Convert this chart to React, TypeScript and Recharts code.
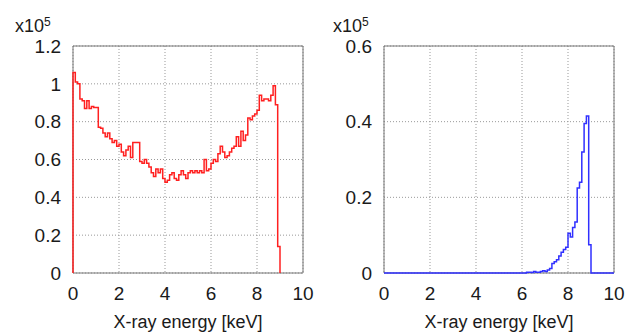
import { LineChart, Line, XAxis, YAxis, CartesianGrid, ReferenceArea, Label } from "recharts";

// bin width of the histograms, keV
const BIN = 0.1;

// left panel: counts per 0.1 keV bin from 0.0 keV (x10^5)
const LEFT_COUNTS = [
  1.06, 1.01, 1.0, 0.92, 0.91, 0.87, 0.91, 0.87, 0.88, 0.875,
  0.875, 0.77, 0.765, 0.74, 0.72, 0.74, 0.71, 0.69, 0.7, 0.67,
  0.68, 0.64, 0.62, 0.65, 0.67, 0.61, 0.69, 0.69, 0.69, 0.59,
  0.58, 0.6, 0.58, 0.56, 0.53, 0.51, 0.55, 0.53, 0.55, 0.5,
  0.48, 0.49, 0.52, 0.53, 0.5, 0.49, 0.52, 0.54, 0.52, 0.5,
  0.53, 0.54, 0.53, 0.54, 0.53, 0.54, 0.53, 0.6, 0.54, 0.55,
  0.58, 0.6, 0.59, 0.63, 0.67, 0.64, 0.61, 0.62, 0.64, 0.66,
  0.67, 0.72, 0.67, 0.75, 0.7, 0.73, 0.82, 0.81, 0.83, 0.84,
  0.86, 0.94, 0.91, 0.92, 0.92, 0.91, 0.94, 0.99, 0.89, 0.14,
  0,
];

// right panel: nonzero region only, zero elsewhere (x10^5)
const RIGHT_ENERGY = [
  0, 6.2, 6.3, 6.4, 6.5, 6.6, 6.7, 6.8, 6.9, 7.0, 7.1, 7.2, 7.3, 7.4, 7.5, 7.6,
  7.7, 7.8, 7.9, 8.0, 8.1, 8.2, 8.3, 8.4, 8.5, 8.6, 8.7, 8.8, 8.9, 9.0, 10,
];
const RIGHT_COUNTS = [
  0, 0.002, 0.002, 0.001, 0.004, 0.002, 0.002, 0.004, 0.006, 0.004, 0.008, 0.012,
  0.025, 0.03, 0.035, 0.045, 0.055, 0.062, 0.068, 0.105, 0.095, 0.12, 0.135, 0.225,
  0.24, 0.32, 0.395, 0.415, 0.075, 0, 0,
];

const X_TICKS = [0, 2, 4, 6, 8, 10];
const LEFT_Y_TICKS = [0, 0.2, 0.4, 0.6, 0.8, 1, 1.2];
const RIGHT_Y_TICKS = [0, 0.2, 0.4, 0.6];

const leftData = [
  { e: 0, v: 0 },
  ...LEFT_COUNTS.map((v, i) => ({ e: Math.round(i * BIN * 10) / 10, v })),
];
const rightData = RIGHT_ENERGY.map((e, i) => ({ e, v: RIGHT_COUNTS[i] }));

const FONT = "'Liberation Sans', Arial, sans-serif";
const tickStyle = { fontSize: 19, fill: "#1a1a1a", fontFamily: FONT };

interface PanelProps {
  data: { e: number; v: number }[];
  yMax: number;
  yTicks: number[];
  color: string;
}

function Panel({ data, yMax, yTicks, color }: PanelProps) {
  return (
    <LineChart width={320} height={334} data={data} margin={{ top: 46, right: 17, bottom: 0, left: 0 }}>
      <CartesianGrid stroke="#999" strokeDasharray="1 2" />
      <XAxis
        dataKey="e"
        type="number"
        domain={[0, 10]}
        ticks={X_TICKS}
        height={61}
        tickSize={0}
        tickMargin={14}
        axisLine={false}
        tick={tickStyle}
        interval={0}
      >
        <Label
          value="X-ray energy [keV]"
          position="insideBottom"
          offset={6}
          style={{ fontSize: 18, fill: "#1a1a1a", fontFamily: FONT }}
        />
      </XAxis>
      <YAxis
        type="number"
        domain={[0, yMax]}
        ticks={yTicks}
        width={73}
        tickSize={0}
        tickMargin={12}
        axisLine={false}
        tick={tickStyle}
        interval={0}
      />
      <ReferenceArea x1={0} x2={10} y1={0} y2={yMax} fill="none" stroke="#777" strokeWidth={1} />
      <Line
        dataKey="v"
        type="stepAfter"
        stroke={color}
        strokeWidth={1.5}
        dot={false}
        isAnimationActive={false}
      />
    </LineChart>
  );
}

function Multiplier({ left }: { left: number }) {
  return (
    <div
      style={{
        position: "absolute",
        left,
        top: 12,
        fontFamily: FONT,
        fontSize: 18,
        lineHeight: "20px",
        color: "#1a1a1a",
      }}
    >
      x10<sup style={{ fontSize: 12, verticalAlign: "6px" }}>5</sup>
    </div>
  );
}

export default function App() {
  return (
    <div style={{ position: "absolute", left: 0, top: 0, width: 635, height: 334, background: "#fff" }}>
      <div style={{ position: "absolute", left: 0, top: 0 }}>
        <Panel data={leftData} yMax={1.2} yTicks={LEFT_Y_TICKS} color="#ff2020" />
      </div>
      <div style={{ position: "absolute", left: 311, top: 0 }}>
        <Panel data={rightData} yMax={0.6} yTicks={RIGHT_Y_TICKS} color="#3030ff" />
      </div>
      <Multiplier left={15} />
      <Multiplier left={333} />
    </div>
  );
}
